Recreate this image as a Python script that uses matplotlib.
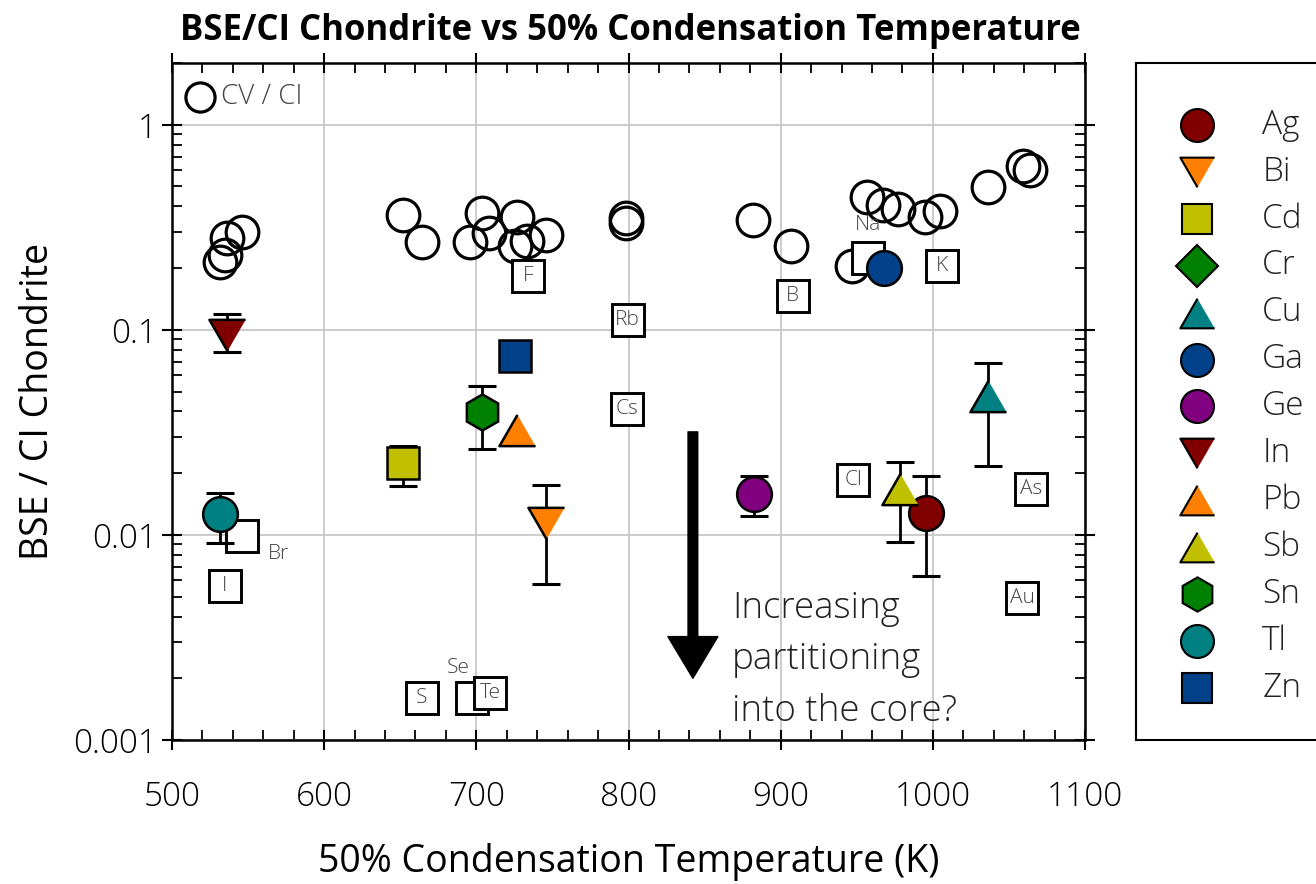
"""
BSE/CI chondrite ratios against 50% condensation temperature (log scale),
with CV/CI reference ratios and labelled lithophile/volatile squares.
"""

import numpy as np
import matplotlib.pyplot as plt

plt.rcParams['font.family'] = ['Open Sans', 'DejaVu Sans']
plt.rcParams['font.weight'] = 'light'

# CV / CI open circles
cv_temp = [531.5, 535, 536, 546, 652, 664, 696, 703.5, 708.5, 726.5, 725.4, 733, 746,
           798.5, 798.5, 882, 907, 946.6, 956.8, 967.4, 977.3, 994.8, 1004.6, 1036.3,
           1059.3, 1063.7]
cv_ratio = [0.215, 0.232, 0.281, 0.30, 0.364, 0.269, 0.268, 0.371, 0.296, 0.355, 0.255,
            0.27, 0.29, 0.35, 0.332, 0.344, 0.257, 0.204, 0.444, 0.407, 0.388, 0.357,
            0.378, 0.497, 0.626, 0.603]

# other elements, open labelled squares
sq_names = ['F', 'Rb', 'Cs', 'Na', 'K', 'B', 'Cl', 'As', 'Au', 'Br', 'I', 'S', 'Se', 'Te']
sq_temp = [734, 799.4, 798.7, 957.5, 1005.7, 908, 947.6, 1064.4, 1058.9, 545.8, 534.8,
           664, 697, 709]
sq_ratio = [0.184, 0.112, 0.041, 0.224, 0.205, 0.147, 0.0185, 0.0167, 0.00494, 0.0099,
            0.00566, 0.0016, 0.0016, 0.00169]

# coloured elements (Cr only appears in the legend)
el_names = ['Ag', 'Bi', 'Cd', 'Cr', 'Cu', 'Ga', 'Ge', 'In', 'Pb', 'Sb', 'Sn', 'Tl', 'Zn']
el_temp = [995.4, 745.7, 652, np.nan, 1036.5, 967.8, 882.6, 535.9, 726.5, 978.3, 703.5,
           531.5, 725.4]
el_ratio = [0.0128, 0.0114, 0.0224, np.nan, 0.0478, 0.2, 0.0158, 0.0946, 0.0325, 0.0168,
            0.0397, 0.0127, 0.0747]
el_hi = [0.0193, 0.0175, 0.027, np.nan, 0.0687, np.nan, 0.0193, 0.1197, np.nan, 0.0228,
         0.053, 0.016, np.nan]
el_lo = [0.0063, 0.00577, 0.0174, np.nan, 0.0216, np.nan, 0.0123, 0.0784, np.nan, 0.0092,
         0.0262, 0.0091, np.nan]

# marker styles
tri_up = [(0, 0.433), (-0.5, -0.433), (0.5, -0.433)]
tri_dn = [(0, -0.433), (-0.5, 0.433), (0.5, 0.433)]
el_marker = ['o', tri_dn, 's', 'D', tri_up, 'o', 'o', tri_dn, tri_up, tri_up, 'h', 'o', 's']
el_size = [25, 26, 23, 22, 26, 25, 25, 26, 26, 26, 26, 25, 23]
el_color = ['#800000', '#ff8000', '#c0c000', '#008000', '#008080', '#00418a', '#800080',
            '#800000', '#ff8000', '#c0c000', '#008000', '#008080', '#00418a']

fig = plt.figure(figsize=(13.16, 8.84), dpi=100)
ax = fig.add_axes([0.1307, 0.1629, 0.6938, 0.7658])

ax.set_yscale('log')
ax.set_xlim(500, 1100)
ax.set_ylim(0.001, 2.0)
ax.grid(True, which='major', color='#c8c8c8', lw=1.3, zorder=0)
ax.set_axisbelow(True)

ax.plot(cv_temp, cv_ratio, 'o', ms=23.5, mfc='none', mec='black', mew=2.3, zorder=3)

ax.plot(sq_temp, sq_ratio, 's', ms=23, mfc='white', mec='black', mew=2.1, zorder=4)
outside = {'Na': (0, 24, 'center'), 'Br': (19, -13, 'left'), 'Se': (-10, 22, 'center')}
for name, t, r in zip(sq_names, sq_temp, sq_ratio):
    dx, dy, ha = outside.get(name, (0, 0, 'center'))
    ax.annotate(name, (t, r), xytext=(dx, dy), textcoords='offset points',
                ha=ha, va='center', fontsize=15, color='#444444', zorder=4.5)

for i, name in enumerate(el_names):
    if np.isnan(el_temp[i]):
        continue
    if np.isnan(el_hi[i]):
        yerr = None
    else:
        yerr = [[el_ratio[i] - el_lo[i]], [el_hi[i] - el_ratio[i]]]
    ax.errorbar(el_temp[i], el_ratio[i], yerr=yerr, fmt='none', ecolor='black',
                elinewidth=2, capsize=10, capthick=2.2, zorder=5)
    ax.plot(el_temp[i], el_ratio[i], marker=el_marker[i], ms=el_size[i],
            mfc=el_color[i], mec='black', mew=1.8, ls='none', zorder=6)

# CV / CI key
ax.plot(518.4, 1.37, 'o', ms=21, mfc='none', mec='black', mew=2.3, zorder=3)
ax.text(532, 1.37, 'CV / CI', fontsize=20, color='#444444', va='center', ha='left')

# arrow and note
ax.annotate('', xy=(842.3, 0.002), xytext=(842.3, 0.0318),
            arrowprops=dict(width=7, headwidth=36, headlength=30, facecolor='black',
                            edgecolor='black', shrink=0))
ax.text(868, 0.0054, 'Increasing\npartitioning\ninto the core?', fontsize=26.5,
        color='#222222', va='top', ha='left', linespacing=1.52)

ax.set_xticks([500, 600, 700, 800, 900, 1000, 1100])
ax.set_xticks(np.arange(500, 1101, 20), minor=True)
ax.set_yticks([0.001, 0.01, 0.1, 1])
ax.set_yticklabels(['0.001', '0.01', '0.1', '1'])
ax.tick_params(which='both', top=True, right=True, labelsize=24)
ax.tick_params(axis='x', which='major', pad=22)
ax.tick_params(axis='y', which='major', pad=4)
ax.tick_params(which='major', direction='inout', length=14, width=1.5)
ax.tick_params(which='minor', direction='in', length=7, width=1.3)
for s in ax.spines.values():
    s.set_linewidth(1.8)

ax.set_xlabel('50% Condensation Temperature (K)', fontsize=27, labelpad=21)
ax.set_ylabel('BSE / CI Chondrite', fontsize=27, labelpad=11)
fig.text(0.479, 0.965, 'BSE/CI Chondrite vs 50% Condensation Temperature',
         fontsize=25, fontweight='bold', ha='center', va='center')

# legend panel
leg = fig.add_axes([0.8632, 0.1629, 0.16, 0.7658])
leg.set_xlim(0, 1)
leg.set_ylim(13.11, -1.32)
leg.set_xticks([])
leg.set_yticks([])
for s in leg.spines.values():
    s.set_linewidth(1.5)
for i, name in enumerate(el_names):
    leg.plot(0.29, i, marker=el_marker[i], ms=el_size[i] * 0.95, mfc=el_color[i],
             mec='black', mew=1.5, ls='none')
    leg.text(0.6, i, name, fontsize=24, color='#222222', va='center', ha='left')

fig.savefig('out.png', dpi=100)
print('Saved out.png')
